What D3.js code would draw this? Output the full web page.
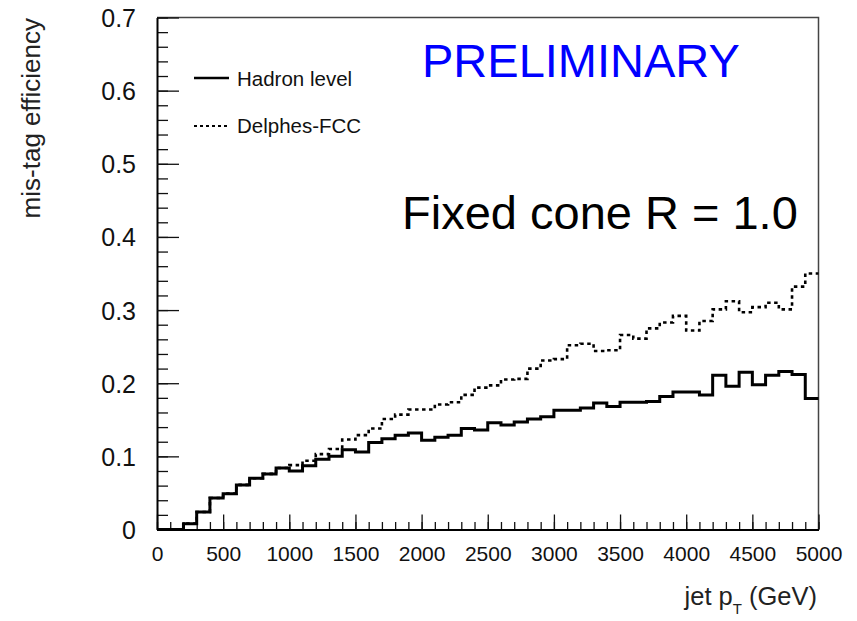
<!DOCTYPE html>
<meta charset="utf-8">
<head>
    <title>mis-tag efficiency</title>
    <script type="text/javascript" src="https://d3js.org/d3.v7.min.js"></script>
    <style>
        html, body {
            margin: 0;
            padding: 0;
            background: white;
        }
        text {
            font-family: "Liberation Sans", Arial, Helvetica, sans-serif;
        }
    </style>
</head>

<body>
    <div id="chart"></div>

    <script>
        // bin lower edges (GeV), 100 GeV wide
        var binEdges = d3.range(0, 5000, 100);

        // mis-tag efficiency, hadron level (solid)
        var hadronLevel = [
            0, 0, 0.008, 0.024, 0.043, 0.049, 0.061, 0.070, 0.076, 0.084,
            0.080, 0.087, 0.096, 0.100, 0.109, 0.106, 0.119, 0.124, 0.129, 0.132,
            0.122, 0.126, 0.129, 0.138, 0.136, 0.146, 0.143, 0.147, 0.151, 0.154,
            0.163, 0.163, 0.166, 0.173, 0.168, 0.174, 0.174, 0.175, 0.182, 0.188,
            0.188, 0.184, 0.211, 0.196, 0.215, 0.198, 0.211, 0.216, 0.212, 0.179
        ];

        // mis-tag efficiency, Delphes-FCC (dotted)
        var delphesFCC = [
            0, 0, 0.008, 0.024, 0.043, 0.049, 0.061, 0.070, 0.076, 0.084,
            0.088, 0.094, 0.103, 0.110, 0.123, 0.129, 0.138, 0.151, 0.157, 0.164,
            0.164, 0.171, 0.174, 0.184, 0.194, 0.197, 0.205, 0.206, 0.220, 0.231,
            0.233, 0.252, 0.254, 0.244, 0.245, 0.266, 0.261, 0.275, 0.283, 0.292,
            0.272, 0.285, 0.301, 0.312, 0.297, 0.304, 0.310, 0.301, 0.332, 0.350
        ];

        var xTicks = [0, 500, 1000, 1500, 2000, 2500, 3000, 3500, 4000, 4500, 5000];
        var yTicks = [0, 0.1, 0.2, 0.3, 0.4, 0.5, 0.6, 0.7];
        var xMinor = d3.range(0, 5001, 100);
        var yMinor = d3.range(0, 0.701, 0.02);

        var width = 857, height = 621;
        var plotLeft = 157, plotRight = 818.5, plotTop = 17.5, plotBottom = 529.5;

        var svg = d3.select("#chart").append("svg")
            .attr("width", width)
            .attr("height", height);

        var x = d3.scaleLinear().domain([0, 5000]).range([plotLeft, plotRight]);
        var y = d3.scaleLinear().domain([0, 0.7]).range([plotBottom, plotTop]);

        // frame top/right
        svg.append("path")
            .attr("d", "M" + plotLeft + "," + plotTop + "H" + plotRight + "V" + plotBottom)
            .attr("fill", "none")
            .attr("stroke", "#444")
            .attr("stroke-width", 1.5);

        // x axis
        var xAxisG = svg.append("g").attr("transform", "translate(0," + plotBottom + ")");
        xAxisG.call(d3.axisBottom(x).tickValues(xMinor).tickSize(-7.5).tickSizeOuter(0).tickFormat(""));
        xAxisG.call(function(g) { g.select(".domain").remove(); });
        var xMajorG = svg.append("g").attr("transform", "translate(0," + plotBottom + ")");
        xMajorG.call(d3.axisBottom(x).tickValues(xTicks).tickSize(-15).tickSizeOuter(0).tickFormat(d3.format("d")));
        xMajorG.selectAll("text")
            .attr("y", 31)
            .attr("dy", 0)
            .attr("font-size", 21)
            .attr("fill", "#111");
        xMajorG.select(".domain").attr("stroke-width", 2);

        // y axis
        var yAxisG = svg.append("g").attr("transform", "translate(" + plotLeft + ",0)");
        yAxisG.call(d3.axisLeft(y).tickValues(yMinor).tickSize(-11).tickSizeOuter(0).tickFormat(""));
        yAxisG.call(function(g) { g.select(".domain").remove(); });
        var yMajorG = svg.append("g").attr("transform", "translate(" + plotLeft + ",0)");
        yMajorG.call(d3.axisLeft(y).tickValues(yTicks).tickSize(-22).tickSizeOuter(0)
            .tickFormat(function(d) { return d === 0 ? "0" : d3.format(".1f")(d); }));
        yMajorG.selectAll("text")
            .attr("x", -21)
            .attr("dy", "0.36em")
            .attr("font-size", 25)
            .attr("fill", "#111");
        yMajorG.select(".domain").attr("stroke-width", 2);

        svg.selectAll(".tick line").attr("stroke", "#111").attr("stroke-width", 1.3);

        // histograms as step lines
        var step = d3.line()
            .x(function(d) { return x(d[0]); })
            .y(function(d) { return y(d[1]); })
            .curve(d3.curveStepAfter);

        function histPoints(values) {
            var pts = binEdges.map(function(e, i) { return [e, values[i]]; });
            pts.push([5000, values[values.length - 1]]);
            return pts;
        }

        svg.append("path")
            .datum(histPoints(delphesFCC))
            .attr("d", step)
            .attr("fill", "none")
            .attr("stroke", "#000")
            .attr("stroke-width", 2.6)
            .attr("stroke-dasharray", "3.5,3.5");

        svg.append("path")
            .datum(histPoints(hadronLevel))
            .attr("d", step)
            .attr("fill", "none")
            .attr("stroke", "#000")
            .attr("stroke-width", 3);

        // legend
        var legend = svg.append("g");
        legend.append("line")
            .attr("x1", 194).attr("x2", 229).attr("y1", 78).attr("y2", 78)
            .attr("stroke", "#000").attr("stroke-width", 2.5);
        legend.append("text")
            .attr("x", 237).attr("y", 85.5)
            .attr("font-size", 20.5).attr("fill", "#111")
            .text("Hadron level");
        legend.append("line")
            .attr("x1", 194).attr("x2", 229).attr("y1", 126).attr("y2", 126)
            .attr("stroke", "#000").attr("stroke-width", 2.2)
            .attr("stroke-dasharray", "3,3");
        legend.append("text")
            .attr("x", 237).attr("y", 133)
            .attr("font-size", 20.5).attr("fill", "#111")
            .text("Delphes-FCC");

        // labels
        svg.append("text")
            .attr("x", 422).attr("y", 77)
            .attr("font-size", 47).attr("fill", "#0000ff")
            .text("PRELIMINARY");

        svg.append("text")
            .attr("x", 402).attr("y", 229)
            .attr("font-size", 47).attr("fill", "#000")
            .text("Fixed cone R = 1.0");

        svg.append("text")
            .attr("transform", "translate(40,18) rotate(-90)")
            .attr("text-anchor", "end")
            .attr("font-size", 26)
            .attr("fill", "#222")
            .text("mis-tag efficiency");

        var xt = svg.append("text")
            .attr("x", 817).attr("y", 605)
            .attr("text-anchor", "end")
            .attr("font-size", 25.5)
            .attr("fill", "#222");
        xt.append("tspan").text("jet p");
        xt.append("tspan").attr("font-size", 15).attr("dy", 9).text("T");
        xt.append("tspan").attr("dy", -9).text(" (GeV)");
    </script>
</body>
</html>
